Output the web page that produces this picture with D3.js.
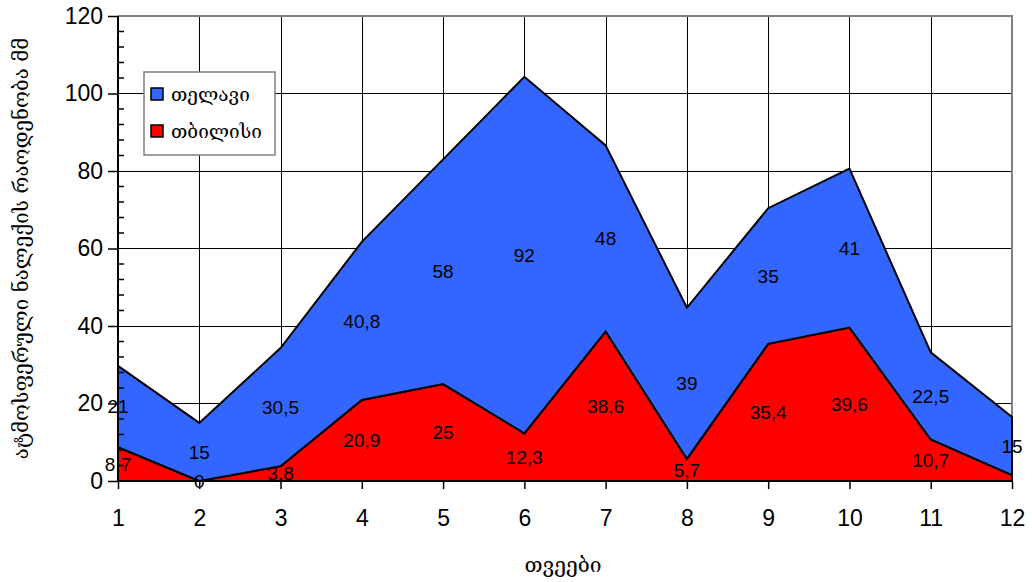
<!DOCTYPE html>
<html>
<head>
<meta charset="utf-8">
<script src="https://cdn.jsdelivr.net/npm/d3@7"></script>
<style>
  html, body { margin: 0; padding: 0; background: #fff; }
  svg { display: block; }
</style>
</head>
<body>
<svg id="chart" width="1032" height="582"></svg>
<script>
// Monthly precipitation, mm
const months = [1, 2, 3, 4, 5, 6, 7, 8, 9, 10, 11, 12];
const tbilisi = [8.7, 0, 3.8, 20.9, 25, 12.3, 38.6, 5.7, 35.4, 39.6, 10.7, 1.5];
const telavi = [21, 15, 30.5, 40.8, 58, 92, 48, 39, 35, 41, 22.5, 15];
const seriesNames = ["თბილისი", "თელავი"];
const seriesColors = ["#FF0000", "#3366FF"];
const yTicks = [0, 20, 40, 60, 80, 100, 120];
const xTitle = "თვეები";
const yTitle = "ატმოსფერული ნალექის რაოდენობა მმ";
// the December value for Tbilisi has no printed label
const tbilisiLabelShown = [true, true, true, true, true, true, true, true, true, true, true, false];

const svg = d3.select("#chart");
const margin = { left: 118, right: 20, top: 16, bottom: 101 };
const W = 1032, H = 582;
const plotW = W - margin.left - margin.right;
const plotH = H - margin.top - margin.bottom;

const x = d3.scaleLinear().domain([1, 12]).range([margin.left, margin.left + plotW]);
const y = d3.scaleLinear().domain([0, 120]).range([margin.top + plotH, margin.top]);

const numFont = "'Liberation Sans', Arial, sans-serif";
const geoFont = "'DejaVu Serif', 'DejaVu Sans', serif";

const rows = months.map((m, i) => ({ month: m, tbilisi: tbilisi[i], telavi: telavi[i] }));
const stack = d3.stack().keys(["tbilisi", "telavi"]);
const layers = stack(rows);

// grid
const grid = svg.append("g");
grid.selectAll("line.h").data(yTicks.slice(1, -1)).join("line")
  .attr("x1", x(1)).attr("x2", x(12))
  .attr("y1", d => y(d)).attr("y2", d => y(d))
  .attr("stroke", "#000").attr("stroke-width", 1).attr("shape-rendering", "crispEdges");
grid.selectAll("line.v").data(months.slice(1, -1)).join("line")
  .attr("x1", d => Math.round(x(d)) + 0.5).attr("x2", d => Math.round(x(d)) + 0.5)
  .attr("y1", y(0)).attr("y2", y(120))
  .attr("stroke", "#000").attr("stroke-width", 1);
// plot frame (top and right)
svg.append("path")
  .attr("d", `M${x(1)},${y(120)}H${x(12)}V${y(0)}`)
  .attr("fill", "none").attr("stroke", "#808080").attr("stroke-width", 2);

// stacked areas
const area = d3.area()
  .x(d => x(d.data.month))
  .y0(d => y(d[0]))
  .y1(d => y(d[1]));
svg.append("g").selectAll("path").data(layers).join("path")
  .attr("d", area)
  .attr("fill", (d, i) => seriesColors[i])
  .attr("stroke", "#000").attr("stroke-width", 2).attr("stroke-linejoin", "miter");

// axes
const yAxis = d3.axisLeft(y).tickValues(yTicks).tickSize(10).tickPadding(5).tickFormat(d3.format("d"));
const gy = svg.append("g").attr("transform", `translate(${x(1)},0)`).call(yAxis);
gy.select(".domain").attr("stroke", "#000").attr("stroke-width", 2).attr("d", `M0,${y(0)}V${y(120)}`);
gy.selectAll(".tick line").attr("stroke", "#000").attr("stroke-width", 1.5);
gy.selectAll(".tick text").attr("font-family", numFont).attr("font-size", 23).attr("fill", "#000");
// minor ticks on the inside, every 4 mm
gy.selectAll("line.minor").data(d3.range(4, 120, 4).filter(v => v % 20 !== 0)).join("line")
  .attr("class", "minor")
  .attr("x1", 0).attr("x2", 6)
  .attr("y1", d => y(d)).attr("y2", d => y(d))
  .attr("stroke", "#000").attr("stroke-width", 1.5);

const xAxis = d3.axisBottom(x).tickValues(months).tickSize(8).tickPadding(21).tickFormat(d3.format("d"));
const gx = svg.append("g").attr("transform", `translate(0,${y(0)})`).call(xAxis);
gx.select(".domain").attr("stroke", "#000").attr("stroke-width", 2).attr("d", `M${x(1)},0H${x(12)}`);
gx.selectAll(".tick line").attr("stroke", "#000").attr("stroke-width", 1.5);
gx.selectAll(".tick text").attr("font-family", numFont).attr("font-size", 23).attr("fill", "#000");

// value labels centred in each band
const fmt = v => String(v).replace(".", ",");
const labels = svg.append("g").attr("font-family", numFont).attr("font-size", 19)
  .attr("fill", "#000").attr("text-anchor", "middle");
layers.forEach((layer, li) => {
  layer.forEach((d, i) => {
    if (li === 0 && !tbilisiLabelShown[i]) return;
    const val = d[1] - d[0];
    labels.append("text")
      .attr("x", x(d.data.month))
      .attr("y", y((d[0] + d[1]) / 2))
      .attr("dy", "0.35em")
      .text(fmt(Math.round(val * 10) / 10));
  });
});

// axis titles
svg.append("text")
  .attr("x", 563).attr("y", 572)
  .attr("text-anchor", "middle")
  .attr("font-family", geoFont).attr("font-size", 21).attr("fill", "#000")
  .text(xTitle);
svg.append("text")
  .attr("transform", `translate(28,${(y(0) + y(120)) / 2}) rotate(-90)`)
  .attr("text-anchor", "middle")
  .attr("font-family", geoFont).attr("font-size", 20.5).attr("fill", "#000")
  .text(yTitle);

// legend
const lg = svg.append("g").attr("transform", "translate(144,72)");
lg.append("rect").attr("width", 131).attr("height", 83)
  .attr("fill", "#fff").attr("stroke", "#808080").attr("stroke-width", 1.5);
const legendOrder = [1, 0];
legendOrder.forEach((si, k) => {
  const row = lg.append("g").attr("transform", `translate(7,${16 + k * 37})`);
  row.append("rect").attr("width", 12).attr("height", 12)
    .attr("fill", seriesColors[si]).attr("stroke", "#000").attr("stroke-width", 1.5);
  row.append("text").attr("x", 20).attr("y", 6).attr("dy", "0.35em")
    .attr("font-family", geoFont).attr("font-size", 19).attr("fill", "#000")
    .text(seriesNames[si]);
});
</script>
</body>
</html>
